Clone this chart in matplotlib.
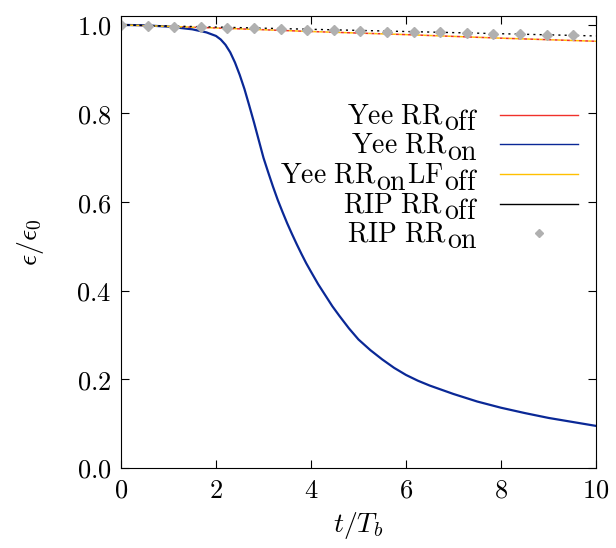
import numpy as np
import matplotlib
matplotlib.use("Agg")
import matplotlib.pyplot as plt
import matplotlib.transforms as mtransforms

plt.rcParams['mathtext.fontset'] = 'cm'
plt.rcParams['font.family'] = ['DejaVu Serif']

# blue: Yee RR_on
t_on = [0, 0.5, 1.0, 1.5, 1.8, 2.0, 2.1, 2.2, 2.3, 2.4, 2.5, 2.6, 2.7, 2.8, 2.9,
        3.0, 3.1, 3.2, 3.3, 3.4, 3.5, 3.6, 3.7, 3.8, 3.9, 4.0, 4.15, 4.3, 4.45,
        4.6, 4.8, 5.0, 5.25, 5.5, 5.75, 6.0, 6.25, 6.5, 7.0, 7.5, 8.0, 8.5, 9.0,
        9.5, 10.0]
e_on = [1.0, 0.999, 0.996, 0.99, 0.983, 0.975, 0.967, 0.955, 0.938, 0.915, 0.887,
        0.855, 0.818, 0.78, 0.74, 0.70, 0.667, 0.635, 0.605, 0.578, 0.552, 0.528,
        0.505, 0.483, 0.462, 0.443, 0.415, 0.39, 0.365, 0.343, 0.315, 0.29,
        0.266, 0.245, 0.226, 0.21, 0.197, 0.186, 0.167, 0.150, 0.136, 0.124,
        0.113, 0.104, 0.095]

t_flat = [0, 2, 4, 6, 8, 10]
e_yee_off = [1.0, 0.993, 0.985, 0.978, 0.970, 0.963]
e_yee_lf = [1.0, 0.993, 0.985, 0.978, 0.970, 0.963]
e_rip_off = [1.0, 0.995, 0.990, 0.985, 0.980, 0.975]

t_rip_on = [0, 0.56, 1.12, 1.68, 2.24, 2.8, 3.36, 3.92, 4.48, 5.04, 5.6, 6.16,
            6.72, 7.28, 7.84, 8.4, 8.96, 9.52]
e_rip_on = [1.0, 0.998, 0.996, 0.995, 0.993, 0.992, 0.991, 0.989, 0.988, 0.986,
            0.985, 0.984, 0.983, 0.981, 0.980, 0.979, 0.978, 0.977]

# legend labels as (text, is_subscript) pieces, gnuplot style (full size subs)
labels = [[('Yee\\ RR', 0), ('off', 1)],
          [('Yee\\ RR', 0), ('on', 1)],
          [('Yee\\ RR', 0), ('on', 1), ('LF', 0), ('off', 1)],
          [('RIP\\ RR', 0), ('off', 1)],
          [('RIP\\ RR', 0), ('on', 1)]]
colors = ['#f0312a', '#0a2896', '#ffc000', 'black', '#b0b0b0']

fig = plt.figure(figsize=(6.16, 5.48), dpi=100)
ax = fig.add_axes([0.1964, 0.146, 0.7711, 0.8248])

ax.plot(t_flat, e_yee_off, color=colors[0], lw=1.1, ls=(0, (2, 2)))
ax.plot(t_on, e_on, color=colors[1], lw=1.6)
ax.plot(t_flat, e_yee_lf, color=colors[2], lw=1.1, ls=(2, (2, 2)))
ax.plot(t_flat, e_rip_off, color=colors[3], lw=1.0, ls=(0, (1.5, 3)))
ax.plot(t_rip_on, e_rip_on, ls='none', marker='D', ms=5, color=colors[4])

ax.set_xlim(0, 10)
ax.set_ylim(0, 1.02)
xt = [0, 2, 4, 6, 8, 10]
yt = [0, 0.2, 0.4, 0.6, 0.8, 1.0]
ax.set_xticks(xt)
ax.set_yticks(yt)
ax.set_xticklabels([r'$%d$' % v for v in xt], fontsize=19)
ax.set_yticklabels([r'$%.1f$' % v for v in yt], fontsize=19)
ax.tick_params(direction='in', length=6, width=0.8, top=True, right=True, pad=7)
ax.set_xlabel(r'$t/T_b$', fontsize=20, labelpad=5)
ax.set_ylabel(r'$\epsilon/\epsilon_0$', fontsize=20, labelpad=22)

# hand-made key, right aligned text then the sample on the right
fig.canvas.draw()
rend = fig.canvas.get_renderer()
fs = 20
text_right = 0.7516
line_x = (0.798, 0.962)
row_y = [0.781, 0.716, 0.650, 0.585, 0.520]
base_drop = 8.5 * 72 / fig.dpi   # baseline below sample, in points
sub_drop = 5.0                   # subscript lowering, in points
for i, pieces in enumerate(labels):
    y = row_y[i]
    if i < 4:
        ax.plot(line_x, [y, y], transform=ax.transAxes, color=colors[i], lw=1.0,
                clip_on=False)
    else:
        ax.plot([sum(line_x) / 2], [y], transform=ax.transAxes, ls='none',
                marker='D', ms=4, color=colors[i], clip_on=False)
    dx = 0.0
    for txt, sub in reversed(pieces):
        dy = -base_drop - (sub_drop if sub else 0)
        tr = ax.transAxes + mtransforms.ScaledTranslation(-dx / 72, dy / 72,
                                                           fig.dpi_scale_trans)
        t = ax.text(text_right, y, r'$\mathrm{%s}$' % txt, transform=tr,
                    ha='right', va='baseline', fontsize=fs)
        dx += t.get_window_extent(rend).width * 72 / fig.dpi

fig.savefig('out.png', dpi=100)
